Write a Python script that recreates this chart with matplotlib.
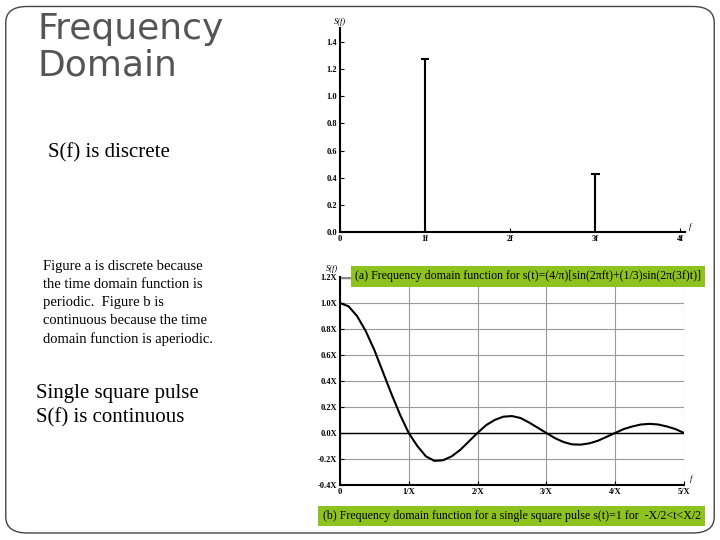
import matplotlib.pyplot as plt
from matplotlib.patches import FancyBboxPatch

# -------------------------------
# Data
# -------------------------------
harm_f = [1, 3]
harm_amp = [1.27, 0.43]

pulse_f = [0, 0.125, 0.25, 0.375, 0.5, 0.625, 0.75, 0.875, 1.0, 1.125, 1.25, 1.375, 1.5,
           1.625, 1.75, 1.875, 2.0, 2.125, 2.25, 2.375, 2.5, 2.625, 2.75, 2.875, 3.0,
           3.125, 3.25, 3.375, 3.5, 3.625, 3.75, 3.875, 4.0, 4.125, 4.25, 4.375, 4.5,
           4.625, 4.75, 4.875, 5.0]
pulse_s = [1.0, 0.975, 0.90, 0.785, 0.64, 0.47, 0.30, 0.14, 0.0, -0.10, -0.18, -0.215, -0.21,
           -0.18, -0.13, -0.065, 0.0, 0.06, 0.10, 0.125, 0.13, 0.115, 0.08, 0.04, 0.0,
           -0.04, -0.07, -0.088, -0.09, -0.08, -0.06, -0.03, 0.0, 0.03, 0.05, 0.065, 0.07,
           0.065, 0.05, 0.03, 0.0]

top_yticks = [0.0, 0.2, 0.4, 0.6, 0.8, 1.0, 1.2, 1.4]
top_xlabels = ["0", "1f", "2f", "3f", "4f"]
bot_yticks = [-0.4, -0.2, 0.0, 0.2, 0.4, 0.6, 0.8, 1.0, 1.2]
bot_xlabels = ["0", "1/X", "2/X", "3/X", "4/X", "5/X"]

green = "#8dc21f"
serif = "Liberation Serif"

fig = plt.figure(figsize=(7.2, 5.4), dpi=100)

# slide border
fig.patches.append(FancyBboxPatch((0.008, 0.013), 0.984, 0.975, boxstyle="round,pad=0,rounding_size=0.03",
                                  transform=fig.transFigure, fill=False, ec="#444444", lw=1))

# -------------------------------
# Slide text
# -------------------------------
fig.text(0.052, 0.978, "Frequency\nDomain", fontsize=26, color="#555555", va="top", linespacing=1.1)
fig.text(0.066, 0.718, "S(f) is discrete", fontsize=15, family=serif, va="center")
fig.text(0.060, 0.518, "Figure a is discrete because\nthe time domain function is\nperiodic.  Figure b is\n"
         "continuous because the time\ndomain function is aperiodic.",
         fontsize=10.5, family=serif, va="top", linespacing=1.5)
fig.text(0.050, 0.248, "Single square pulse\nS(f) is continuous", fontsize=15, family=serif,
         va="center", linespacing=1.35)

# -------------------------------
# Chart (a): discrete spectrum
# -------------------------------
ax1 = fig.add_axes([0.472, 0.570, 0.479, 0.378])
ax1.vlines(harm_f, 0, harm_amp, color="black", lw=1.5)
ax1.hlines(harm_amp, [f - 0.05 for f in harm_f], [f + 0.05 for f in harm_f], color="black", lw=1.5)
ax1.set_xlim(0, 4.05)
ax1.set_ylim(0, 1.5)
ax1.set_yticks(top_yticks)
ax1.set_yticklabels([f"{v:.1f}" for v in top_yticks])
ax1.set_xticks(range(5))
ax1.set_xticklabels(top_xlabels)
for s in ["top", "right"]:
    ax1.spines[s].set_visible(False)
ax1.spines["left"].set_linewidth(1.5)
ax1.spines["bottom"].set_linewidth(1.5)
ax1.tick_params(labelsize=6, direction="in", length=3, pad=2)
for t in ax1.get_xticklabels() + ax1.get_yticklabels():
    t.set_family(serif)
    t.set_fontweight("bold")
ax1.text(0, 1.53, "S(f)", fontsize=6, family=serif, style="italic", ha="center")
ax1.text(4.1, 0.02, "f", fontsize=6, family=serif, style="italic")

fig.text(0.493, 0.488, "(a) Frequency domain function for s(t)=(4/\u03c0)[sin(2\u03c0ft)+(1/3)sin(2\u03c0(3f)t)]",
         fontsize=8.6, family=serif, va="center",
         bbox=dict(boxstyle="square,pad=0.35", fc=green, ec="none"))

# -------------------------------
# Chart (b): single pulse spectrum
# -------------------------------
ax2 = fig.add_axes([0.472, 0.102, 0.478, 0.385])
ax2.plot(pulse_f, pulse_s, color="black", lw=1.5)
ax2.set_xlim(0, 5)
ax2.set_ylim(-0.4, 1.2)
ax2.set_yticks(bot_yticks)
ax2.set_yticklabels([f"{v:.1f}X" for v in bot_yticks])
ax2.set_xticks(range(6))
ax2.set_xticklabels(bot_xlabels)
ax2.grid(True, color="#999999", lw=0.8)
ax2.axhline(0, color="black", lw=1)
ax2.axhline(1.2, color="#888888", lw=2.5)
for s in ["top", "right"]:
    ax2.spines[s].set_visible(False)
ax2.spines["left"].set_linewidth(1.5)
ax2.spines["bottom"].set_linewidth(1.5)
ax2.tick_params(labelsize=6, direction="in", length=3, pad=2)
for t in ax2.get_xticklabels() + ax2.get_yticklabels():
    t.set_family(serif)
    t.set_fontweight("bold")
ax2.text(-0.12, 1.25, "S(f)", fontsize=6, family=serif, style="italic", ha="center")
ax2.text(5.08, -0.37, "f", fontsize=6, family=serif, style="italic")

fig.text(0.448, 0.045, "(b) Frequency domain function for a single square pulse s(t)=1 for  -X/2<t<X/2",
         fontsize=8.6, family=serif, va="center",
         bbox=dict(boxstyle="square,pad=0.35", fc=green, ec="none"))

plt.savefig("out.png", dpi=100)
plt.close()
